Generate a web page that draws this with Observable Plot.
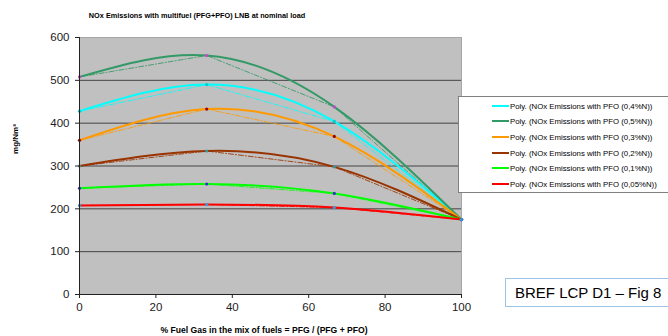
<!DOCTYPE html>
<html><head><meta charset="utf-8">
<script src="https://cdn.jsdelivr.net/npm/d3@7"></script>
<script src="https://cdn.jsdelivr.net/npm/@observablehq/plot@0.6"></script>
<style>
body{margin:0;background:#fff;font-family:Arial,"Liberation Sans",sans-serif;}
#wrap{position:relative;width:668px;height:336px;overflow:hidden;background:#fff;}
#chart{position:absolute;left:0;top:0;}
.t{position:absolute;white-space:nowrap;font-weight:bold;color:#000;}
#title{top:11px;left:197px;transform:translateX(-50%);font-size:7.3px;}
#xlab{top:325px;left:264px;transform:translateX(-50%);font-size:8.6px;}
#ylab{top:139px;left:15px;transform:translate(-50%,-50%) rotate(-90deg);font-size:8px;}
#legend{position:absolute;left:458px;top:96px;width:230px;height:95px;background:#fff;border:1px solid #808080;}
.row{position:absolute;left:33px;height:10px;font-size:7.8px;color:#000;white-space:nowrap;}
.row .sw{display:inline-block;width:17px;height:2px;vertical-align:middle;margin-right:1px;position:relative;top:-1px;}
#bref{position:absolute;left:505px;top:278px;width:200px;height:29px;border:1px solid #9dc3e6;background:#fff;font-size:15px;line-height:28px;padding-left:9px;box-sizing:border-box;color:#000;white-space:nowrap;}
</style>
</head><body>
<div id="wrap">
  <div id="chart"></div>
  <div id="title" class="t"></div>
  <div id="ylab" class="t"></div>
  <div id="xlab" class="t"></div>
  <div id="legend"></div>
  <div id="bref"></div>
</div>
<script>
const titleText = "NOx Emissions with multifuel (PFG+PFO) LNB at nominal load";
const yLabel = "mg/Nm³";
const xLabel = "% Fuel Gas in the mix of fuels = PFG / (PFG + PFO)";
const noteText = "BREF LCP D1 – Fig 8";

const xValues = [0, 33.3, 66.7, 100];
const xTicks = [0, 20, 40, 60, 80, 100];
const yTicks = [0, 100, 200, 300, 400, 500, 600];
const gridValues = [100, 200, 300, 400, 500];

const seriesKeys = ["0,4%N", "0,5%N", "0,3%N", "0,2%N", "0,1%N", "0,05%N"];
const seriesColors = ["#00ffff", "#339966", "#ff9900", "#993300", "#00ff00", "#ff0000"];
const markerColors = ["#00cccc", "#cc44cc", "#990000", "#339999", "#3333cc", "#3399dd"];

const n04 = [428, 490, 404, 175];
const n05 = [508, 558, 438, 175];
const n03 = [360, 433, 369, 175];
const n02 = [300, 335, 298, 175];
const n01 = [248, 258, 236, 175];
const n005 = [208, 210, 203, 175];
const seriesValues = [n04, n05, n03, n02, n01, n005];

const data = seriesKeys.flatMap((k, si) =>
  xValues.map((x, i) => ({x, y: seriesValues[si][i], s: k, m: markerColors[si]})));

const chart = Plot.plot({
  width: 668, height: 336,
  marginLeft: 79, marginRight: 207, marginTop: 37, marginBottom: 42,
  style: {fontFamily: "Arial, 'Liberation Sans', sans-serif", background: "transparent"},
  x: {domain: [0, 100]},
  y: {domain: [0, 600]},
  color: {domain: seriesKeys, range: seriesColors},
  marks: [
    Plot.frame({fill: "#c0c0c0", stroke: "#a6a6a6"}),
    Plot.ruleY(gridValues, {stroke: "#444", strokeWidth: 1}),
    Plot.line(data, {x: "x", y: "y", z: "s", stroke: "s", strokeWidth: 1, strokeDasharray: "5,2,1,2", strokeOpacity: 0.85}),
    Plot.line(data, {x: "x", y: "y", z: "s", stroke: "s", strokeWidth: 2, curve: "natural"}),
    Plot.dot(data, {x: "x", y: "y", fill: "m", r: 1.6}),
    Plot.ruleX([0], {stroke: "#222"}),
    Plot.ruleY([0], {stroke: "#222"}),
    Plot.axisY({ticks: yTicks, tickSize: 4, tickPadding: 6, fontSize: 11.5, color: "#222", label: null}),
    Plot.axisX({ticks: xTicks, tickSize: 4, tickPadding: 4, fontSize: 11.5, color: "#222", label: null})
  ]
});
document.getElementById("chart").appendChild(chart);

document.getElementById("title").textContent = titleText;
document.getElementById("ylab").textContent = yLabel;
document.getElementById("xlab").textContent = xLabel;
document.getElementById("bref").textContent = noteText;

const legend = document.getElementById("legend");
const rowTops = [5, 20, 36, 52, 67, 83];
seriesKeys.forEach((k, i) => {
  const row = document.createElement("div");
  row.className = "row";
  row.style.top = rowTops[i] + "px";
  const sw = document.createElement("span");
  sw.className = "sw";
  sw.style.background = seriesColors[i];
  row.appendChild(sw);
  row.appendChild(document.createTextNode("Poly. (NOx Emissions with PFO (" + k + "))"));
  legend.appendChild(row);
});
</script>
</body></html>
